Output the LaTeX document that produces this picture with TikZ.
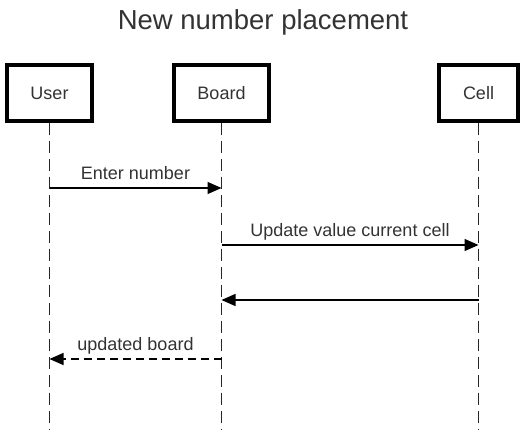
\documentclass[tikz,border=0pt]{standalone}
\usepackage{fontspec}
\setmainfont{Liberation Sans}
\usetikzlibrary{arrows.meta}
\definecolor{txt}{HTML}{333333}
\begin{document}
\begin{tikzpicture}[x=1pt,y=-1pt,
  actor/.style={draw=black,line width=3.2pt,minimum width=#1,minimum height=56pt,inner sep=0pt,text=txt,font=\fontsize{18}{20}\selectfont},
  lifeline/.style={draw=black!85,line width=1.7pt,dash pattern=on 12pt off 6pt},
  msg/.style={draw=black,line width=1.3pt,-{Triangle[length=14pt,width=12pt]}},
  rmsg/.style={msg,dash pattern=on 8pt off 5pt},
  lbl/.style={text=txt,font=\fontsize{18}{20}\selectfont,inner sep=0pt,anchor=base,yshift=8pt}]
\useasboundingbox (0,0) rectangle (525,430);
\node[text=txt,font=\fontsize{27.5}{32}\selectfont] (title) at (263,22) {New number placement};
\node[actor=85pt] (user) at (49.5,93) {User};
\node[actor=95pt] (board) at (221.5,93) {Board};
\node[actor=79pt] (cell) at (478.5,93) {Cell};
\coordinate (ue) at (49.5,430);
\coordinate (be) at (221.5,430);
\coordinate (ce) at (478.5,430);
\draw[lifeline] (user.south) -- (ue);
\draw[lifeline] (board.south) -- (be);
\draw[lifeline] (cell.south) -- (ce);
\coordinate (u1) at (49.5,188); \coordinate (b1) at (221.5,188);
\coordinate (b2) at (221.5,245); \coordinate (c2) at (478.5,245);
\coordinate (c3) at (478.5,300); \coordinate (b3) at (221.5,300);
\coordinate (b4) at (221.5,359); \coordinate (u4) at (49.5,359);
\draw[msg] (u1) -- node[lbl] (l1) {Enter number} (b1);
\draw[msg] (b2) -- node[lbl] (l2) {Update value current cell} (c2);
\draw[msg] (c3) -- (b3);
\draw[rmsg] (b4) -- node[lbl] (l4) {updated board} (u4);
\end{tikzpicture}
\end{document}
